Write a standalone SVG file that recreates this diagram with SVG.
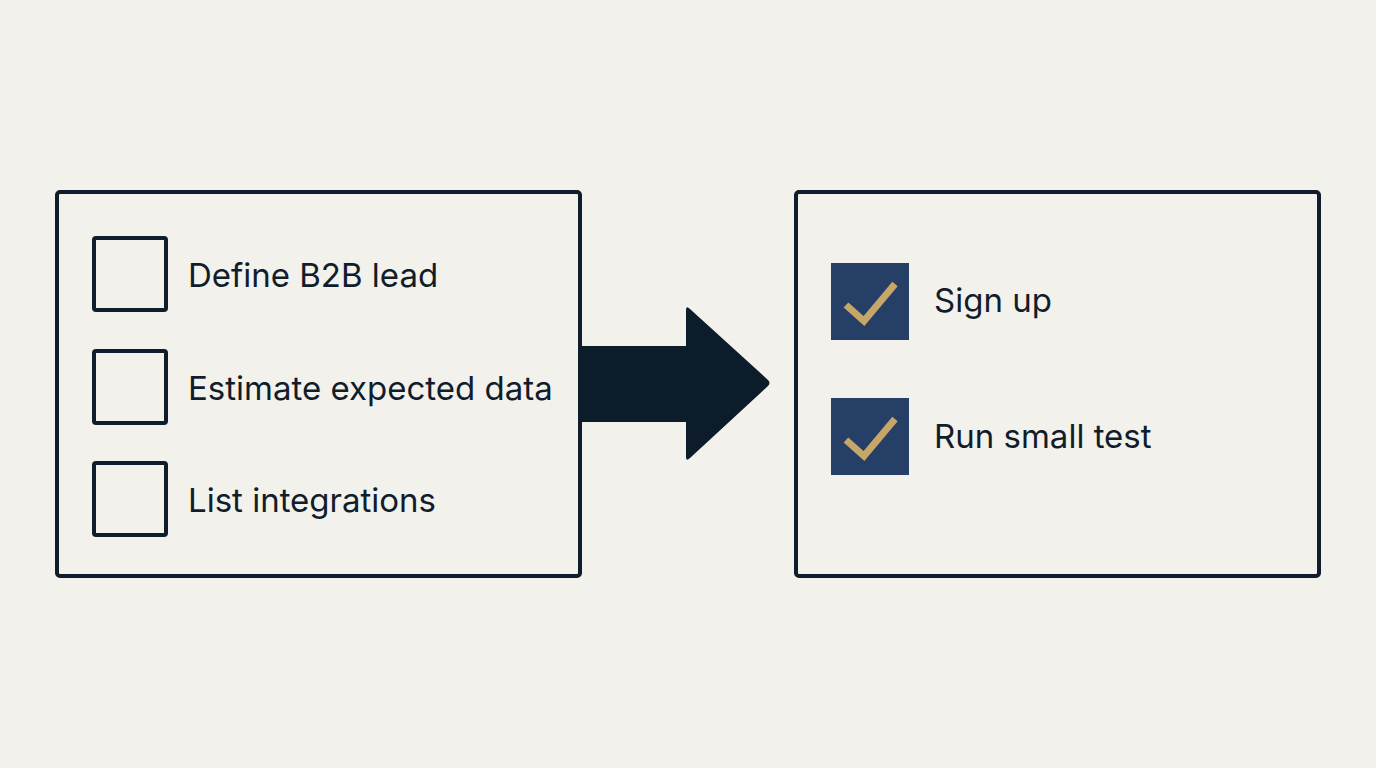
<svg xmlns="http://www.w3.org/2000/svg" width="1376" height="768" viewBox="0 0 1376 768">
<style>
.panel{fill:none;stroke:#0f1d2c;stroke-width:4}
.box{fill:none;stroke:#0f1d2c;stroke-width:4}
.done{fill:#253f66}
.tick{fill:none;stroke:#c6a769;stroke-width:7;stroke-linecap:butt;stroke-linejoin:miter}
.lbl{font-family:Inter,"Liberation Sans",sans-serif;font-size:33px;fill:#111d2b}
</style>
<rect width="1376" height="768" fill="#f2f1ec"/>
<g id="todo-panel">
<rect class="panel" x="57" y="192" width="523" height="384" rx="3"/>
</g>
<g id="item-define">
<rect class="box" x="94" y="238" width="72" height="72" rx="2"/>
<text class="lbl" x="188" y="287">Define B2B lead</text>
</g>
<g id="item-estimate">
<rect class="box" x="94" y="351" width="72" height="72" rx="2"/>
<text class="lbl" x="188" y="400">Estimate expected data</text>
</g>
<g id="item-list">
<rect class="box" x="94" y="463" width="72" height="72" rx="2"/>
<text class="lbl" x="188" y="512">List integrations</text>
</g>
<g id="done-panel">
<rect class="panel" x="796" y="192" width="523" height="384" rx="3"/>
</g>
<g id="item-signup">
<rect class="done" x="831" y="263" width="78" height="77"/>
<polyline class="tick" points="846,305 864,321 895,284"/>
<text class="lbl" x="934" y="312">Sign up</text>
</g>
<g id="item-test">
<rect class="done" x="831" y="398" width="78" height="77"/>
<polyline class="tick" points="846,440 864,456 895,419"/>
<text class="lbl" x="934" y="448">Run small test</text>
</g>
<g id="connectors">
<path d="M580,346 L686,346 L686,310 Q686,305 690,309 L768,380 Q771,383 768,386 L690,458 Q686,462 686,457 L686,422 L580,422 Z" fill="#0d1c2b"/>
</g>
</svg>
